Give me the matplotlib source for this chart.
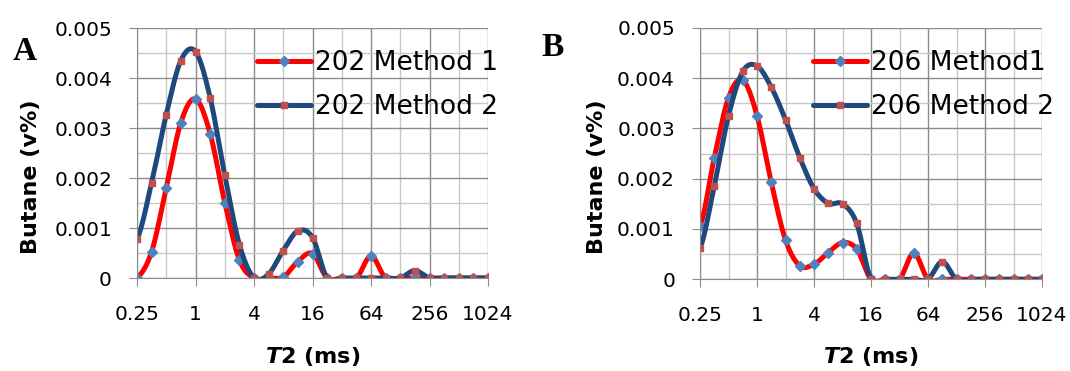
import numpy as np
import matplotlib
matplotlib.use('Agg')
from matplotlib import pyplot as plt
from matplotlib.ticker import FixedLocator, FixedFormatter, NullFormatter

plt.rcParams['font.family'] = 'DejaVu Sans'
plt.rcParams['mathtext.fontset'] = 'custom'
plt.rcParams['mathtext.rm'] = 'DejaVu Sans'
plt.rcParams['mathtext.bf'] = 'DejaVu Sans:bold'
plt.rcParams['mathtext.bfit'] = 'DejaVu Sans:italic:bold'

# T2 bins (ms), half-octave steps
t2 = [0.25, 0.354, 0.5, 0.707, 1, 1.414, 2, 2.83, 4, 5.66, 8, 11.3, 16,
      22.6, 32, 45.3, 64, 90.5, 128, 181, 256, 362, 512, 724, 1024]

a_m1 = [0, 0.00053, 0.0018, 0.00311, 0.00358, 0.00289, 0.00151, 0.00036, 0,
        0, 0.00002, 0.00033, 0.00049, 0, 0, 0, 0.00044, 0, 0,
        0, 0, 0, 0, 0, 0]
a_m2 = [0.00078, 0.00191, 0.00327, 0.00435, 0.00453, 0.00361, 0.00206, 0.00067, 0,
        0.00008, 0.00055, 0.00094, 0.00081, 0, 0, 0, 0, 0, 0,
        0.00015, 0, 0, 0, 0, 0]
b_m1 = [0.00105, 0.00242, 0.00361, 0.00396, 0.00325, 0.00193, 0.00078, 0.00027, 0.0003,
        0.00053, 0.00073, 0.0006, 0, 0, 0, 0.00052, 0, 0, 0,
        0, 0, 0, 0, 0, 0]
b_m2 = [0.00062, 0.00186, 0.00325, 0.00413, 0.00424, 0.00382, 0.00317, 0.00242, 0.0018,
        0.00151, 0.0015, 0.00111, 0, 0, 0, 0, 0, 0.00035, 0,
        0, 0, 0, 0, 0, 0]

x_ticks = [0.25, 1, 4, 16, 64, 256, 1024]
x_ticklabels = ['0.25', '1', '4', '16', '64', '256', '1024']
x_minor = [0.5, 2, 8, 32, 128, 512]
y_ticks = [0, 0.001, 0.002, 0.003, 0.004, 0.005]
y_ticklabels = ['0', '0.001', '0.002', '0.003', '0.004', '0.005']

RED = '#FF0000'
NAVY = '#1F497D'
DIAM = '#4F81BD'
SQR = '#C0504D'
N = 20


def smooth(y):
    # excel style smoothed line (bezier through the points)
    y = np.asarray(y, float)
    yp = np.concatenate([[y[0]], y, [y[-1]]])
    ks, ys = [], []
    t = np.linspace(0, 1, N, endpoint=False)
    for i in range(len(y) - 1):
        p0, p1, p2, p3 = yp[i], yp[i+1], yp[i+2], yp[i+3]
        c1 = p1 + (p2 - p0) / 6
        c2 = p2 - (p3 - p1) / 6
        ys.append((1-t)**3*p1 + 3*(1-t)**2*t*c1 + 3*(1-t)*t**2*c2 + t**3*p2)
        ks.append(i + t)
    ks.append([len(y) - 1])
    ys.append([y[-1]])
    ks = np.concatenate(ks)
    xs = np.exp(np.interp(ks, np.arange(len(y)), np.log(t2)))
    return xs, np.concatenate(ys)


def panel(ax, m1, m2, names, leg_x):
    for y, col, mk, mc, name in [(m1, RED, 'D', DIAM, names[0]),
                                 (m2, NAVY, 's', SQR, names[1])]:
        xs, ys = smooth(y)
        ax.plot(xs, ys, color=col, lw=3.6, marker=mk, markevery=N, ms=5,
                mfc=mc, mec=mc, solid_capstyle='round', solid_joinstyle='round',
                label=name)
    ax.set_xscale('log', base=2)
    ax.set_xlim(0.25, 1024)
    ax.set_ylim(0, 0.005)
    ax.xaxis.set_major_locator(FixedLocator(x_ticks))
    ax.xaxis.set_major_formatter(FixedFormatter(x_ticklabels))
    ax.xaxis.set_minor_locator(FixedLocator(x_minor))
    ax.xaxis.set_minor_formatter(NullFormatter())
    ax.yaxis.set_major_locator(FixedLocator(y_ticks))
    ax.yaxis.set_major_formatter(FixedFormatter(y_ticklabels))
    ax.yaxis.set_minor_locator(FixedLocator([0.0005, 0.0015, 0.0025, 0.0035, 0.0045]))
    ax.grid(which='major', color='#8C8C8C', lw=1.0)
    ax.grid(which='minor', color='#C8C8C8', lw=1.0)
    ax.set_axisbelow(True)
    for s in ['top', 'right']:
        ax.spines[s].set_visible(False)
    for s in ['left', 'bottom']:
        ax.spines[s].set_color('#8C8C8C')
    ax.tick_params(which='major', length=6, color='#8C8C8C', labelsize=14.5)
    ax.tick_params(axis='x', which='major', pad=13.5)
    ax.tick_params(axis='y', which='major', pad=12)
    ax.tick_params(which='minor', length=0)
    ax.legend(loc='upper left', bbox_to_anchor=(leg_x, 1 - 50 / 371),
              bbox_transform=fig.transFigure, frameon=False, fontsize=19,
              handlelength=2.05, handletextpad=0.15, labelspacing=0.69,
              borderpad=0, borderaxespad=0, numpoints=1)


fig = plt.figure(figsize=(10.7, 3.71), dpi=100)
ax1 = fig.add_axes([137 / 1070, 1 - 278 / 371, 351 / 1070, 250 / 371])
ax2 = fig.add_axes([700 / 1070, 1 - 279.3 / 371, 342 / 1070, 251.6 / 371])

panel(ax1, a_m1, a_m2, ['202 Method 1', '202 Method 2'], 257 / 1070)
panel(ax2, b_m1, b_m2, ['206 Method1', '206 Method 2'], 813 / 1070)

for cx, lx in [(31.5, 313), (597, 871)]:
    fig.text(cx / 1070, 1 - 177 / 371, 'Butane (v%)', rotation=90, ha='center',
             va='center', fontsize=16, fontweight='bold')
    fig.text(lx / 1070, 1 - 356 / 371, r'$\mathbfit{T}$2 (ms)', ha='center',
             va='center', fontsize=16, fontweight='bold')

fig.text(24.5 / 1070, 1 - 51 / 371, 'A', family='Liberation Serif',
         fontweight='bold', fontsize=24, ha='center', va='center')
fig.text(553 / 1070, 1 - 48 / 371, 'B', family='Liberation Serif',
         fontweight='bold', fontsize=24, ha='center', va='center')

fig.savefig('out.png', dpi=100)
